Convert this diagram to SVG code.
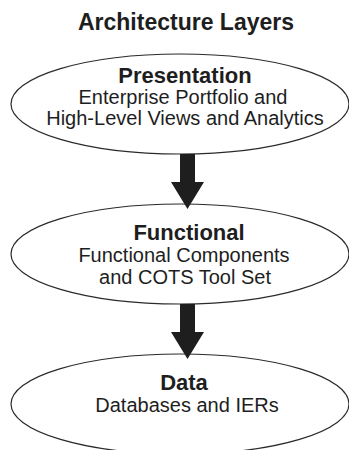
<svg xmlns="http://www.w3.org/2000/svg" width="349" height="450" viewBox="0 0 349 450">
  <style>
    .layer { fill: #fff; stroke: #2a2a2a; stroke-width: 1.2; }
    .title { font-family: "Liberation Sans", Arial, sans-serif; font-weight: bold; font-size: 23px; fill: #1e1e1e; text-anchor: middle; }
    .head { font-family: "Liberation Sans", Arial, sans-serif; font-weight: bold; font-size: 22px; fill: #1e1e1e; text-anchor: middle; }
    .body { font-family: "Liberation Sans", Arial, sans-serif; font-size: 20px; fill: #1e1e1e; text-anchor: middle; }
    .flow { fill: #1e1e1e; }
  </style>

  <text class="title" x="186" y="30">Architecture Layers</text>

  <g id="presentation">
    <ellipse class="layer" cx="180" cy="104" rx="169" ry="50"/>
    <text class="head" x="185" y="83">Presentation</text>
    <text class="body" x="183" y="104">Enterprise Portfolio and</text>
    <text class="body" x="185" y="125">High-Level Views and Analytics</text>
  </g>

  <g id="functional">
    <ellipse class="layer" cx="180" cy="254" rx="169" ry="50"/>
    <text class="head" x="189" y="240">Functional</text>
    <text class="body" x="184" y="262">Functional Components</text>
    <text class="body" x="185" y="284">and COTS Tool Set</text>
  </g>

  <g id="data">
    <ellipse class="layer" cx="180" cy="404" rx="169" ry="50"/>
    <text class="head" x="184" y="390">Data</text>
    <text class="body" x="187" y="412">Databases and IERs</text>
  </g>

  <g id="connectors">
    <polygon class="flow" points="180,154 195,154 195,182 204,182 187.5,209 171,182 180,182"/>
    <polygon class="flow" points="180,304 195,304 195,332 204,332 187.5,359 171,332 180,332"/>
  </g>
</svg>
